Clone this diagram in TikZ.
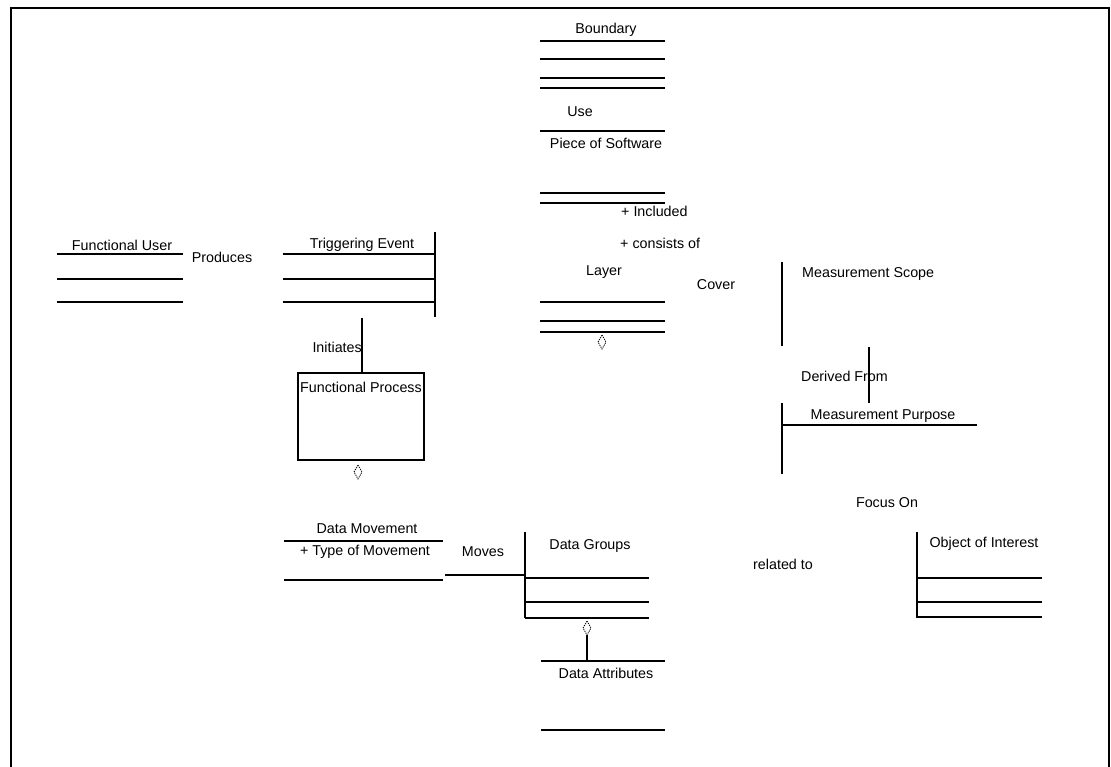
\documentclass[tikz,border=0pt]{standalone}
\usepackage{fontspec}
\setmainfont{Liberation Sans}
\usepackage{tikz}

\tikzset{
	lbl/.style={inner sep=0pt, font=\fontsize{14.3}{16}\selectfont},
	bar/.style={line width=1.6pt},
	agg/.style={line width=0.8pt, dash pattern=on 1.2pt off 1pt}
}

\begin{document}
\begin{tikzpicture}[x=1pt,y=-1pt]
		\useasboundingbox (0,0) rectangle (1111,767);
		% frame
		\draw[line width=2pt] (11,780) -- (11,8) -- (1109,8) -- (1109,780);
		
		% Boundary / Piece of Software / Layer
		\node[lbl] (boundary) at (606,30) {Boundary};
		\draw[bar] (540,41) -- (665,41);
		\draw[bar] (540,59) -- (665,59);
		\draw[bar] (540,78) -- (665,78);
		\draw[bar] (540,88) -- (665,88);
		\node[lbl] (use) at (580,112) {Use};
		\draw[bar] (540,131) -- (665,131);
		\node[lbl] (software) at (606,143) {Piece of Software};
		\draw[bar] (540,193) -- (665,193);
		\draw[bar] (540,203) -- (665,203);
		\node[lbl, anchor=west] (included) at (621,211) {+ Included};
		\node[lbl, anchor=west] (consists) at (620,243) {+ consists of};
		\node[lbl] (layer) at (604,272) {Layer};
		\node[lbl] (cover) at (716,285) {Cover};
		\draw[bar] (540,302) -- (665,302);
		\draw[bar] (540,321) -- (665,321);
		\draw[bar] (540,332) -- (665,332);
		\draw[agg] (602,335) -- (606,342) -- (602,349) -- (598,342) -- cycle;
		
		% Functional User / Triggering Event
		\node[lbl] (user) at (122,245) {Functional User};
		\draw[bar] (57,254) -- (183,254);
		\draw[bar] (57,279) -- (183,279);
		\draw[bar] (57,302) -- (183,302);
		\node[lbl] (produces) at (222,257) {Produces};
		\node[lbl] (event) at (362,245) {Triggering Event};
		\draw[bar] (283,254) -- (435,254);
		\draw[bar] (283,279) -- (435,279);
		\draw[bar] (283,302) -- (435,302);
		\draw[bar] (435,232) -- (435,317);
		
		% Functional Process
		\draw[bar] (362,318) -- (362,373);
		\node[lbl, anchor=east] (initiates) at (362,347) {Initiates};
		\draw[bar] (298,373) rectangle (424,460);
		\node[lbl] (process) at (361,387) {Functional Process};
		\draw[agg] (358,465) -- (362,472) -- (358,479) -- (354,472) -- cycle;
		
		% Measurement Scope / Purpose
		\draw[bar] (782,262) -- (782,346);
		\node[lbl, anchor=west] (scope) at (802,274) {Measurement Scope};
		\draw[bar] (869,347) -- (869,403);
		\node[lbl, anchor=west] (derived) at (801,376) {Derived From};
		\draw[bar] (782,403) -- (782,474);
		\draw[bar] (782,425) -- (977,425);
		\node[lbl] (purpose) at (883,416) {Measurement Purpose};
		\node[lbl] (focus) at (887,503) {Focus On};
		
		% Object of Interest
		\draw[bar] (917,532) -- (917,618);
		\node[lbl] (object) at (984,544) {Object of Interest};
		\draw[bar] (917,578) -- (1042,578);
		\draw[bar] (917,602) -- (1042,602);
		\draw[bar] (917,617) -- (1042,617);
		\node[lbl] (related) at (783,564) {related to};
		
		% Data Movement / Data Groups / Data Attributes
		\node[lbl] (movement) at (367,529) {Data Movement};
		\draw[bar] (284,541) -- (443,541);
		\node[lbl] (type) at (365,552) {+ Type of Movement};
		\draw[bar] (284,580) -- (443,580);
		\node[lbl] (moves) at (483,552) {Moves};
		\draw[bar] (445,575) -- (525,575);
		\draw[bar] (525,532) -- (525,618);
		\node[lbl] (groups) at (590,546) {Data Groups};
		\draw[bar] (525,578) -- (649,578);
		\draw[bar] (525,602) -- (649,602);
		\draw[bar] (525,618) -- (649,618);
		\draw[agg] (587,621) -- (591,628) -- (587,635) -- (583,628) -- cycle;
		\draw[bar] (587,635) -- (587,661);
		\draw[bar] (541,661) -- (665,661);
		\node[lbl] (attributes) at (606,673) {Data Attributes};
		\draw[bar] (541,730) -- (665,730);
	\end{tikzpicture}
\end{document}
